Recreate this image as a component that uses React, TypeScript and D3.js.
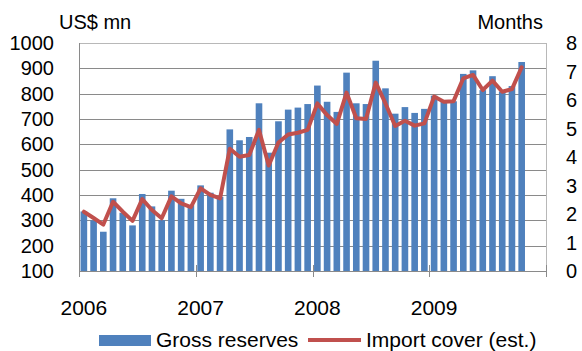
import React from "react";
import * as d3 from "d3";

// Monthly gross reserves (US$ mn) and estimated import cover (months)
const years = ["2006", "2007", "2008", "2009"];

const months = [
  "2006-01", "2006-02", "2006-03", "2006-04", "2006-05", "2006-06",
  "2006-07", "2006-08", "2006-09", "2006-10", "2006-11", "2006-12",
  "2007-01", "2007-02", "2007-03", "2007-04", "2007-05", "2007-06",
  "2007-07", "2007-08", "2007-09", "2007-10", "2007-11", "2007-12",
  "2008-01", "2008-02", "2008-03", "2008-04", "2008-05", "2008-06",
  "2008-07", "2008-08", "2008-09", "2008-10", "2008-11", "2008-12",
  "2009-01", "2009-02", "2009-03", "2009-04", "2009-05", "2009-06",
  "2009-07", "2009-08", "2009-09", "2009-10",
];

const grossReserves = [
  335, 300, 255, 387, 330, 280, 404, 355, 301, 417, 385, 360,
  438, 409, 393, 659, 616, 629, 762, 567, 691, 737, 745, 759,
  832, 768, 728, 883, 762, 759, 930, 821, 721, 747, 724, 740,
  792, 768, 770, 878, 892, 814, 869, 808, 830, 925,
];

const importCover = [
  2.08, 1.86, 1.63, 2.43, 2.08, 1.76, 2.52, 2.14, 1.85, 2.62, 2.37, 2.24,
  2.9, 2.67, 2.55, 4.29, 4.01, 4.07, 4.95, 3.7, 4.51, 4.79, 4.85, 4.95,
  5.88, 5.47, 5.16, 6.26, 5.36, 5.33, 6.61, 5.88, 5.09, 5.27, 5.1, 5.18,
  6.12, 5.94, 5.96, 6.76, 6.88, 6.35, 6.68, 6.29, 6.38, 7.15,
];

const leftTicks = [100, 200, 300, 400, 500, 600, 700, 800, 900, 1000];
const rightTicks = [0, 1, 2, 3, 4, 5, 6, 7, 8];

const W = 582;
const H = 351;
const plot = { left: 79, right: 546, top: 43, bottom: 271 };
const FONT = "'Liberation Sans', Arial, sans-serif";
const BAR = "#4F81BD";
const LINE = "#C0504D";

export default function App() {
  // every calendar month of the four years gets a slot on the axis
  const slots = years.flatMap((y) =>
    d3.range(1, 13).map((m) => `${y}-${String(m).padStart(2, "0")}`)
  );

  const x = d3
    .scaleBand<string>()
    .domain(slots)
    .range([plot.left, plot.right])
    .paddingInner(0.32)
    .paddingOuter(0.16);

  const step = x.step();
  const yLeft = d3.scaleLinear().domain([100, 1000]).range([plot.bottom, plot.top]);
  const yRight = d3.scaleLinear().domain([0, 8]).range([plot.bottom, plot.top]);

  const cx = (m: string) => (x(m) as number) + x.bandwidth() / 2;

  const line = d3
    .line<number>()
    .x((_, i) => cx(months[i]))
    .y((d) => yRight(d));

  const yearStart = (i: number) => plot.left + i * 12 * step;

  return (
    <svg
      width={W}
      height={H}
      style={{ position: "absolute", left: 0, top: 0, background: "#fff" }}
      fontFamily={FONT}
    >
      {/* horizontal gridlines */}
      {leftTicks.slice(1, -1).map((t) => (
        <line
          key={t}
          x1={plot.left}
          x2={plot.right}
          y1={Math.round(yLeft(t)) + 0.5}
          y2={Math.round(yLeft(t)) + 0.5}
          stroke="#8a8a8a"
          strokeWidth={1}
        />
      ))}

      {/* plot frame: top and right */}
      <line x1={plot.left} x2={plot.right} y1={plot.top + 0.5} y2={plot.top + 0.5} stroke="#b8b8b8" />
      <line x1={plot.right + 0.5} x2={plot.right + 0.5} y1={plot.top} y2={plot.bottom + 6} stroke="#b8b8b8" />

      {/* bars */}
      {grossReserves.map((v, i) => (
        <rect
          key={months[i]}
          x={x(months[i])}
          width={x.bandwidth()}
          y={yLeft(v)}
          height={yLeft(100) - yLeft(v)}
          fill={BAR}
        />
      ))}

      {/* axes lines */}
      <line x1={plot.left + 0.5} x2={plot.left + 0.5} y1={plot.top} y2={plot.bottom + 6} stroke="#8a8a8a" />
      <line x1={plot.left} x2={plot.right} y1={plot.bottom + 0.5} y2={plot.bottom + 0.5} stroke="#8a8a8a" />

      {/* year ticks */}
      {d3.range(years.length + 1).map((i) => (
        <line
          key={i}
          x1={Math.round(yearStart(i)) + 0.5}
          x2={Math.round(yearStart(i)) + 0.5}
          y1={plot.bottom - 6}
          y2={plot.bottom + 6}
          stroke="#8a8a8a"
        />
      ))}

      {/* import cover line */}
      <path
        d={line(importCover) ?? ""}
        fill="none"
        stroke={LINE}
        strokeWidth={4}
        strokeLinejoin="round"
        strokeLinecap="round"
      />

      {/* left axis labels */}
      {leftTicks.map((t) => (
        <text key={t} x={54} y={yLeft(t)} dy="0.35em" textAnchor="end" fontSize={20} fill="#000">
          {t}
        </text>
      ))}

      {/* right axis labels */}
      {rightTicks.map((t) => (
        <text key={t} x={566} y={yRight(t)} dy="0.35em" textAnchor="start" fontSize={20} fill="#000">
          {t}
        </text>
      ))}

      {/* year labels, centred on January */}
      {years.map((y) => (
        <text key={y} x={cx(`${y}-01`)} y={315} textAnchor="middle" fontSize={21} fill="#000">
          {y}
        </text>
      ))}

      {/* axis titles */}
      <text x={59} y={28.5} fontSize={20} fill="#000">US$ mn</text>
      <text x={543} y={28.5} textAnchor="end" fontSize={20} fill="#000">Months</text>

      {/* legend */}
      <rect x={99} y={335} width={52} height={11} fill={BAR} />
      <text x={156} y={347} fontSize={21} fill="#000">Gross reserves</text>
      <line x1={308} x2={361} y1={340} y2={340} stroke={LINE} strokeWidth={4} />
      <text x={366} y={347} fontSize={21} fill="#000">Import cover (est.)</text>
    </svg>
  );
}
